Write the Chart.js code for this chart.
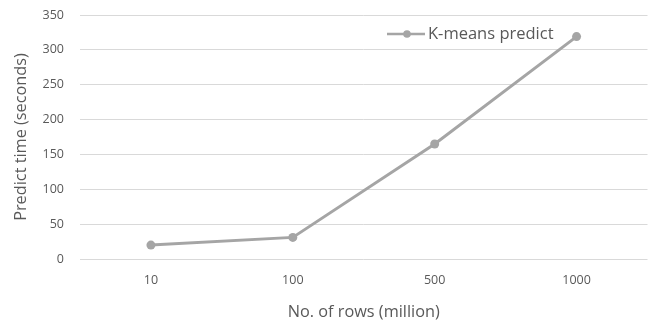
<!DOCTYPE html>
<html>
<head>
<meta charset="utf-8">
<script src="https://cdn.jsdelivr.net/npm/chart.js@4/dist/chart.umd.min.js"></script>
<style>
  html, body { margin: 0; padding: 0; background: #fff; }
  #wrap { width: 652px; height: 326px; }
</style>
</head>
<body>
<div id="wrap"><canvas id="c" width="652" height="326"></canvas></div>
<script>
const categories = ['10', '100', '500', '1000'];
const predictSeconds = [20, 31, 165, 319];
const seriesLabel = 'K-means predict';
const yTicks = [0, 50, 100, 150, 200, 250, 300, 350];

const FONT = '"Open Sans", Lato, sans-serif';
const GREY = '#A5A5A5';
const TEXT = '#595959';

// Legend drawn inside the plot area, near the top right
const insideLegend = {
  id: 'insideLegend',
  afterDatasetsDraw(chart) {
    const ctx = chart.ctx;
    const ds = chart.data.datasets[0];
    const x0 = 387, y0 = 34;
    ctx.save();
    ctx.strokeStyle = ds.borderColor;
    ctx.lineWidth = 2.5;
    ctx.beginPath();
    ctx.moveTo(x0, y0);
    ctx.lineTo(x0 + 38, y0);
    ctx.stroke();
    ctx.fillStyle = ds.pointBackgroundColor;
    ctx.beginPath();
    ctx.arc(x0 + 20, y0, 3.8, 0, Math.PI * 2);
    ctx.fill();
    ctx.fillStyle = TEXT;
    ctx.font = '16.5px ' + FONT;
    ctx.textBaseline = 'middle';
    ctx.fillText(ds.label, x0 + 41, y0);
    ctx.restore();
  }
};

new Chart(document.getElementById('c'), {
  type: 'line',
  data: {
    labels: categories,
    datasets: [{
      label: seriesLabel,
      data: predictSeconds,
      borderColor: GREY,
      backgroundColor: GREY,
      pointBackgroundColor: GREY,
      pointBorderColor: GREY,
      borderWidth: 3,
      pointRadius: 4.5,
      pointBorderWidth: 0,
      tension: 0
    }]
  },
  options: {
    responsive: false,
    animation: false,
    layout: { padding: { top: 15, right: 2, left: 0, bottom: 0 } },
    plugins: { legend: { display: false }, tooltip: { enabled: false } },
    scales: {
      x: {
        offset: true,
        grid: { display: false, drawTicks: false },
        border: { display: false },
        ticks: { color: TEXT, font: { family: FONT, size: 12.5 }, padding: 14 },
        title: { display: true, text: 'No. of rows (million)', color: TEXT, font: { family: FONT, size: 16.3 }, padding: { top: 0, bottom: 4 } },
        afterFit(s) { s.height = 67; s.paddingLeft = 0; s.paddingRight = 0; }
      },
      y: {
        min: 0, max: 350,
        afterBuildTicks(s) { s.ticks = yTicks.map(v => ({ value: v })); },
        grid: { color: '#D9D9D9', lineWidth: 1, drawTicks: false },
        border: { display: false },
        ticks: { color: TEXT, font: { family: FONT, size: 12.5 }, padding: 16 },
        title: { display: true, text: 'Predict time (seconds)', color: TEXT, font: { family: FONT, size: 16.3 }, padding: { top: 12, bottom: 0 } },
        afterFit(s) { s.width = 80; s.paddingTop = 0; s.paddingBottom = 0; }
      }
    }
  },
  plugins: [insideLegend]
});
</script>
</body>
</html>
